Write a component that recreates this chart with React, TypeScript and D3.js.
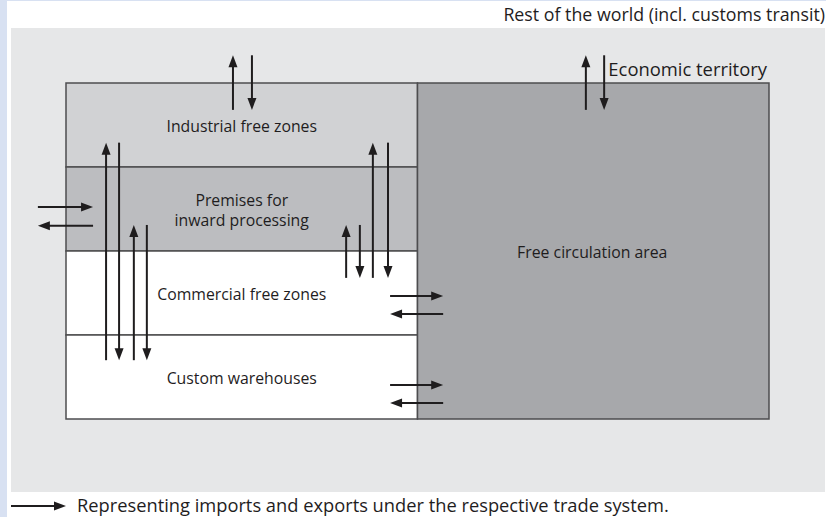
import React from 'react';
import * as d3 from 'd3';

// zones of the left column, top to bottom
const zoneLabels = [
  ['Industrial free zones'],
  ['Premises for', 'inward processing'],
  ['Commercial free zones'],
  ['Custom warehouses'],
];
const zoneFills = ['#d1d2d4', '#bcbdc0', '#ffffff', '#ffffff'];
const freeAreaLabel = 'Free circulation area';
const worldLabel = 'Rest of the world (incl. customs transit)';
const territoryLabel = 'Economic territory';
const legendLabel = 'Representing imports and exports under the respective trade system.';

// vertical flows: column position, start row, end row (arrow points to end)
const verticalFlows = [
  [0.475, 0.32, -0.33], [0.529, -0.33, 0.32],
  [1.479, 0.32, -0.33], [1.531, -0.33, 0.32],
  [0.114, 3.3, 0.71], [0.151, 0.71, 3.3],
  [0.193, 3.3, 1.69], [0.23, 1.69, 3.3],
  [0.797, 2.32, 1.69], [0.836, 1.69, 2.32],
  [0.873, 2.32, 0.71], [0.916, 0.71, 2.32],
];
// horizontal flows: row position, start column, end column
const horizontalFlows = [
  [1.476, -0.08, 0.077], [1.7, 0.077, -0.08],
  [2.536, 0.922, 1.073], [2.75, 1.073, 0.922],
  [3.595, 0.922, 1.073], [3.81, 1.073, 0.922],
];

const W = 826, H = 517;
const ink = '#1f1d1e';
const font = "'Open Sans', sans-serif";

function Arrow({ x1, y1, x2, y2 }) {
  const len = Math.hypot(x2 - x1, y2 - y1);
  const ux = (x2 - x1) / len, uy = (y2 - y1) / len;
  const hl = 12, hw = 4.5;
  const bx = x2 - ux * hl, by = y2 - uy * hl;
  const pts = [
    [x2, y2],
    [bx - uy * hw, by + ux * hw],
    [bx + uy * hw, by - ux * hw],
  ];
  return (
    <g>
      <line x1={x1} y1={y1} x2={bx + ux * 2} y2={by + uy * 2} stroke={ink} strokeWidth={2} />
      <polygon points={pts.map(p => p.join(',')).join(' ')} fill={ink} />
    </g>
  );
}

export default function App() {
  const x = d3.scaleLinear().domain([0, 2]).range([66, 769]);
  const y = d3.scaleLinear().domain([0, 4]).range([83, 419]);
  const rowH = y(1) - y(0);

  return (
    <div style={{ position: 'absolute', left: 0, top: 0 }}>
      <svg width={W} height={H} style={{ display: 'block' }}>
        <rect x={0} y={0} width={W} height={H} fill="#d8e1f2" />
        <rect x={7} y={1} width={W - 7} height={H - 1} fill="#ffffff" />
        <rect x={11} y={28} width={814} height={464} fill="#e6e7e8" />

        <text x={W - 1} y={21} textAnchor="end" fontFamily={font} fontSize={17.8} fill={ink}>
          {worldLabel}
        </text>

        {zoneLabels.map((lines, i) => (
          <rect key={'z' + i} x={x(0)} y={y(i)} width={x(1) - x(0)} height={rowH}
            fill={zoneFills[i]} stroke="#4d4d4f" strokeWidth={1.5} />
        ))}
        <rect x={x(1)} y={y(0)} width={x(2) - x(1)} height={y(4) - y(0)}
          fill="#a7a8ab" stroke="#4d4d4f" strokeWidth={1.5} />

        {zoneLabels.map((lines, i) => (
          <text key={'t' + i} x={(x(0) + x(1)) / 2} textAnchor="middle"
            fontFamily={font} fontSize={15.8} fill={ink}>
            {lines.map((l, j) => (
              <tspan key={j} x={(x(0) + x(1)) / 2}
                y={y(i) + rowH / 2 + 6.5 + (j - (lines.length - 1) / 2) * 20}>{l}</tspan>
            ))}
          </text>
        ))}
        <text x={(x(1) + x(2)) / 2 - 1} y={y(2) + 7} textAnchor="middle" fontFamily={font} fontSize={15.8} fill={ink}>
          {freeAreaLabel}
        </text>

        {verticalFlows.map(([c, r0, r1], i) => (
          <Arrow key={'v' + i} x1={x(c)} y1={y(r0)} x2={x(c)} y2={y(r1)} />
        ))}
        {horizontalFlows.map(([r, c0, c1], i) => (
          <Arrow key={'h' + i} x1={x(c0)} y1={y(r)} x2={x(c1)} y2={y(r)} />
        ))}

        <text x={x(1.543)} y={76} fontFamily={font} fontSize={18.4} fill={ink}>
          {territoryLabel}
        </text>

        <Arrow x1={11} y1={506} x2={66} y2={506} />
        <text x={77} y={512} fontFamily={font} fontSize={18.3} fill={ink}>
          {legendLabel}
        </text>
      </svg>
    </div>
  );
}
